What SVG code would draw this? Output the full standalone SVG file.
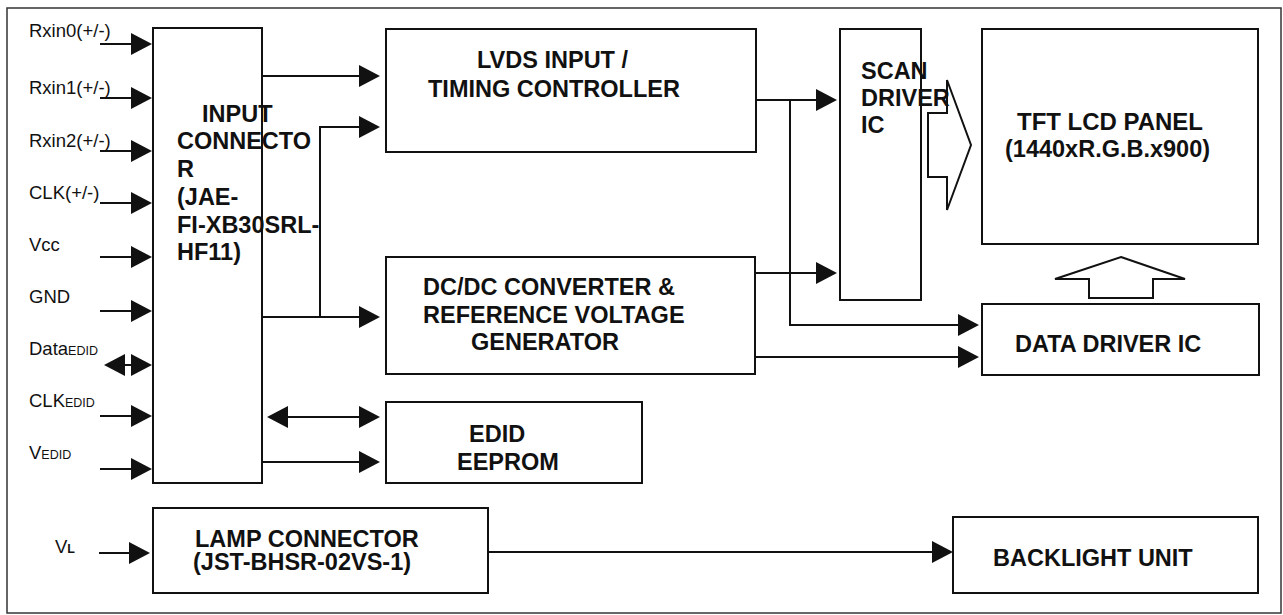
<svg xmlns="http://www.w3.org/2000/svg" width="1283" height="615" viewBox="0 0 1283 615">
<style>
.box{fill:#fff;stroke:#111;stroke-width:2}
.blk{fill:#fff;stroke:#111;stroke-width:2;stroke-linejoin:miter}
.ln{fill:none;stroke:#111;stroke-width:2}
.lbl{font-family:"Liberation Sans",Arial,sans-serif;font-size:18.5px;fill:#111}
.sub{font-size:12.5px}
.t{font-family:"Liberation Sans",Arial,sans-serif;font-size:23.5px;font-weight:bold;fill:#111}
</style>
<defs>
<marker id="ah" viewBox="0 0 21 22" refX="1" refY="11" markerWidth="21" markerHeight="22" markerUnits="userSpaceOnUse" orient="auto-start-reverse">
<path d="M0,0 L21,11 L0,22 z" fill="#111"/>
</marker>
</defs>
<rect x="0" y="0" width="1283" height="615" fill="#fff"/>
<rect id="frame" x="7" y="8" width="1274" height="605" fill="none" stroke="#333" stroke-width="1.5"/>

<g id="input-labels">
<text class="lbl" x="29" y="37">Rxin0(+/-)</text>
<text class="lbl" x="29" y="94">Rxin1(+/-)</text>
<text class="lbl" x="29" y="147">Rxin2(+/-)</text>
<text class="lbl" x="29" y="199">CLK(+/-)</text>
<text class="lbl" x="29" y="251">Vcc</text>
<text class="lbl" x="29" y="303">GND</text>
<text class="lbl" x="29" y="355">Data<tspan class="sub">EDID</tspan></text>
<text class="lbl" x="29" y="407">CLK<tspan class="sub">EDID</tspan></text>
<text class="lbl" x="29" y="459">V<tspan class="sub">EDID</tspan></text>
<text class="lbl" x="55" y="553">V<tspan class="sub" font-weight="bold">L</tspan></text>
</g>

<g id="input-connector">
<rect class="box" x="153" y="28" width="109" height="455"/>
</g>
<g id="lvds">
<rect class="box" x="386" y="29" width="370" height="123"/>
<text class="t" x="477" y="68">LVDS INPUT /</text>
<text class="t" x="428" y="97">TIMING CONTROLLER</text>
</g>
<g id="dcdc">
<rect class="box" x="386" y="257" width="369" height="117"/>
<text class="t" x="423" y="295">DC/DC CONVERTER &amp;</text>
<text class="t" x="423" y="323">REFERENCE VOLTAGE</text>
<text class="t" x="471" y="350">GENERATOR</text>
</g>
<g id="edid">
<rect class="box" x="386" y="402" width="256" height="81"/>
<text class="t" x="469" y="442">EDID</text>
<text class="t" x="457" y="470">EEPROM</text>
</g>
<g id="lamp">
<rect class="box" x="153" y="508" width="335" height="85"/>
<text class="t" x="195" y="547">LAMP CONNECTOR</text>
<text class="t" x="193" y="570">(JST-BHSR-02VS-1)</text>
</g>
<g id="scan">
<rect class="box" x="840" y="29" width="81" height="271"/>
</g>
<g id="tft">
<rect class="box" x="982" y="29" width="276" height="215"/>
<text class="t" x="1017" y="130" textLength="186" lengthAdjust="spacingAndGlyphs">TFT LCD PANEL</text>
<text class="t" x="1005" y="157">(1440xR.G.B.x900)</text>
</g>
<g id="data-driver">
<rect class="box" x="982" y="304" width="277" height="71"/>
<text class="t" x="1015" y="352">DATA DRIVER IC</text>
</g>
<g id="backlight">
<rect class="box" x="953" y="517" width="305" height="76"/>
<text class="t" x="993" y="566">BACKLIGHT UNIT</text>
</g>

<g id="connectors">
<path class="ln" marker-end="url(#ah)" d="M100,44 H132"/>
<path class="ln" marker-end="url(#ah)" d="M100,98 H132"/>
<path class="ln" marker-end="url(#ah)" d="M100,151 H132"/>
<path class="ln" marker-end="url(#ah)" d="M100,203 H132"/>
<path class="ln" marker-end="url(#ah)" d="M100,257 H132"/>
<path class="ln" marker-end="url(#ah)" d="M100,311 H132"/>
<path class="ln" marker-start="url(#ah)" marker-end="url(#ah)" d="M124,365 H132"/>
<path class="ln" marker-end="url(#ah)" d="M100,416 H132"/>
<path class="ln" marker-end="url(#ah)" d="M100,469 H132"/>
<path class="ln" marker-end="url(#ah)" d="M99,553 H130"/>
<path class="ln" marker-end="url(#ah)" d="M262,76 H360"/>
<path class="ln" marker-end="url(#ah)" d="M320,317 V127 H360"/>
<path class="ln" marker-end="url(#ah)" d="M262,317 H360"/>
<path class="ln" marker-start="url(#ah)" marker-end="url(#ah)" d="M287,417 H360"/>
<path class="ln" marker-end="url(#ah)" d="M262,462 H360"/>
<path class="ln" marker-end="url(#ah)" d="M756,100 H817"/>
<path class="ln" marker-end="url(#ah)" d="M790,100 V325 H959"/>
<path class="ln" marker-end="url(#ah)" d="M755,273 H817"/>
<path class="ln" marker-end="url(#ah)" d="M755,357 H959"/>
<path class="ln" marker-end="url(#ah)" d="M488,552 H933"/>
<polygon class="blk" points="928,113 947,113 947,80 971,145 947,210 947,177 928,177"/>
<polygon class="blk" points="1121,257 1185,279 1153,279 1153,298 1089,298 1089,279 1055,279"/>
</g>

<g id="labels-over">
<text class="t" x="202" y="122">INPUT</text>
<text class="t" x="177" y="149">CONNECTO</text>
<text class="t" x="177" y="177">R</text>
<text class="t" x="177" y="205">(JAE-</text>
<text class="t" x="177" y="233">FI-XB30SRL-</text>
<text class="t" x="177" y="260">HF11)</text>
<text class="t" x="861" y="79">SCAN</text>
<text class="t" x="861" y="106">DRIVER</text>
<text class="t" x="861" y="133">IC</text>
</g>
</svg>
